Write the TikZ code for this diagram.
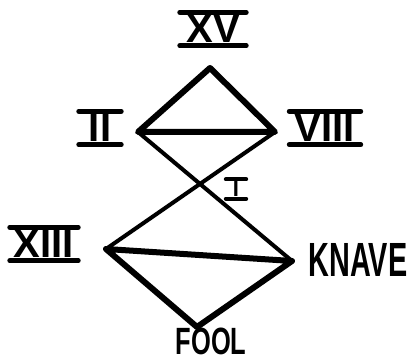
\documentclass[tikz,border=0pt]{standalone}
\usepackage{fontspec}
\usepackage{graphicx}
\setmainfont{Liberation Sans}
\begin{document}
\begin{tikzpicture}[x=1pt,y=1pt,
  heavy/.style={line width=6pt, line cap=round, line join=round},
  light/.style={line width=4pt, line cap=round},
  roman/.style={inner xsep=0pt, inner ysep=2.5pt, text height=28pt, text depth=0pt, font=\fontsize{40}{40}\selectfont\bfseries},
  bar/.style={line width=5pt, line cap=round},
  word/.style={inner sep=0pt, font=\bfseries}]
\useasboundingbox (0,0) rectangle (412,363);
\coordinate (vxv) at (210,295);
\coordinate (vii) at (138,231);
\coordinate (vviii) at (275,231);
\coordinate (vxiii) at (106,114);
\coordinate (vknave) at (292,102);
\coordinate (vfool) at (197,36);
\draw[heavy] (vii) -- (vxv) -- (vviii) -- cycle;
\draw[light] (vii) -- (vknave);
\draw[light] (vviii) -- (vxiii);
\draw[heavy] (vxiii) -- (vknave) -- (vfool) -- cycle;
\node[roman, minimum width=66pt] (xv) at (213,334) {XV};
\node[roman, minimum width=42pt] (ii) at (100,235) {II};
\node[roman, minimum width=71pt] (viii) at (325,235) {VIII};
\node[roman, minimum width=68pt] (xiii) at (44,119) {XIII};
\node[roman, minimum width=20pt, text height=15pt, inner ysep=2pt, font=\fontsize{22}{22}\selectfont\bfseries] (one) at (236,174) {I};
\node[word, font=\fontsize{48}{48}\selectfont\bfseries] (knave) at (358,103) {\scalebox{0.6}[1]{KNAVE}};
\node[word, font=\fontsize{38}{38}\selectfont\bfseries] (fool) at (211,22) {\scalebox{0.67}[1]{FOOL}};
\foreach \n in {xv,ii,viii,xiii} {
  \draw[bar] (\n.north west) -- (\n.north east);
  \draw[bar] (\n.south west) -- (\n.south east);
}
\draw[bar, line width=4pt] (one.north west) -- (one.north east);
\draw[bar, line width=4pt] (one.south west) -- (one.south east);
\end{tikzpicture}
\end{document}
